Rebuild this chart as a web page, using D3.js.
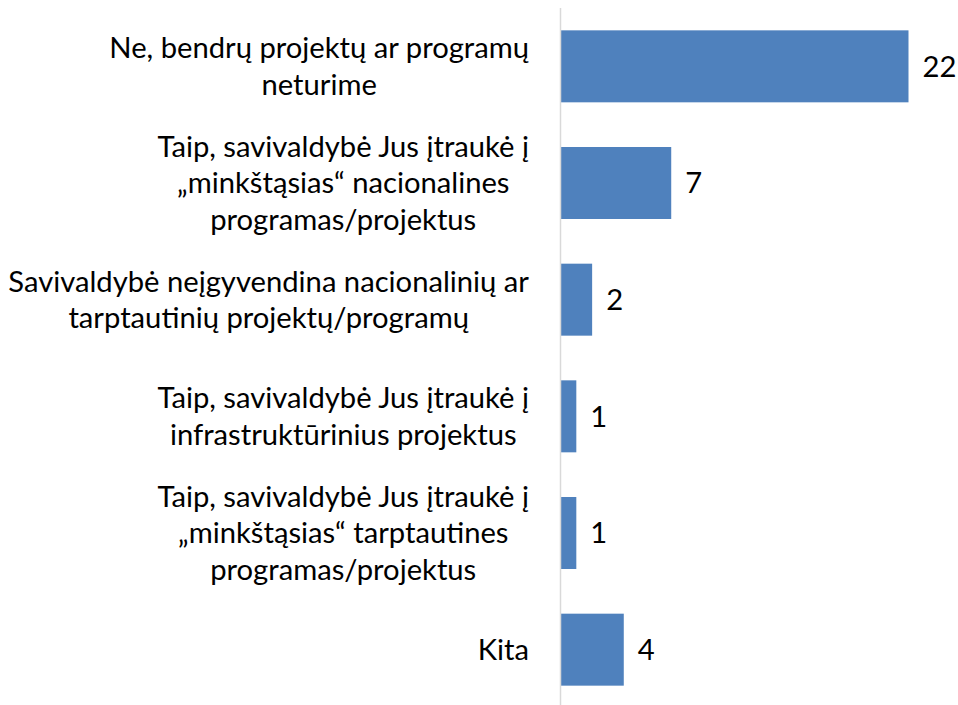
<!DOCTYPE html>
<html>
<head>
<meta charset="utf-8">
<script src="https://cdn.jsdelivr.net/npm/d3@7.9.0/dist/d3.min.js"></script>
<style>
  body { margin: 0; background: #fff; }
  svg { display: block; }
  text { font-family: Lato, "Open Sans", sans-serif; fill: #000; }
</style>
</head>
<body>
<svg id="chart" width="958" height="705"></svg>
<script>
const categories = [
  ['Ne, bendrų projektų ar programų', 'neturime'],
  ['Taip, savivaldybė Jus įtraukė į', '„minkštąsias“ nacionalines', 'programas/projektus'],
  ['Savivaldybė neįgyvendina nacionalinių ar', 'tarptautinių projektų/programų'],
  ['Taip, savivaldybė Jus įtraukė į', 'infrastruktūrinius projektus'],
  ['Taip, savivaldybė Jus įtraukė į', '„minkštąsias“ tarptautines', 'programas/projektus'],
  ['Kita']
];
const values = [22, 7, 2, 1, 1, 4];

const svg = d3.select('#chart');
const x0 = 560.5;
const fontSize = 29.2;
const lineGap = 36.5;
const labelRight = 529;

const x = d3.scaleLinear().domain([0, 22]).range([0, 348]);
const y = d3.scaleBand()
  .domain(d3.range(categories.length))
  .range([8, 708])
  .paddingInner(0.383)
  .paddingOuter(0.1915);

svg.selectAll('rect.bar')
  .data(values)
  .join('rect')
  .attr('class', 'bar')
  .attr('x', x0)
  .attr('y', (d, i) => y(i))
  .attr('width', (d) => x(d))
  .attr('height', y.bandwidth())
  .attr('fill', '#4f81bd');

// vertical axis line
svg.append('line')
  .attr('x1', x0).attr('x2', x0)
  .attr('y1', 8).attr('y2', 705)
  .attr('stroke', '#d9d9d9')
  .attr('stroke-width', 1.5);

// category labels: block right-aligned, lines centred inside the block
categories.forEach((lines, i) => {
  const cy = y(i) + y.bandwidth() / 2;
  const t = svg.append('text')
    .attr('text-anchor', 'middle')
    .attr('font-size', fontSize);
  const spans = lines.map((line, j) => t.append('tspan')
    .attr('y', cy + (j - (lines.length - 1) / 2) * lineGap)
    .attr('dy', '0.35em')
    .text(line));
  const maxW = d3.max(spans, (s) => s.node().getComputedTextLength());
  spans.forEach((s) => s.attr('x', labelRight - maxW / 2));
});

// value labels
svg.selectAll('text.val')
  .data(values)
  .join('text')
  .attr('class', 'val')
  .attr('x', (d) => x0 + x(d) + 14)
  .attr('y', (d, i) => y(i) + y.bandwidth() / 2)
  .attr('dy', '0.35em')
  .attr('font-size', fontSize)
  .text((d) => d);
</script>
</body>
</html>
